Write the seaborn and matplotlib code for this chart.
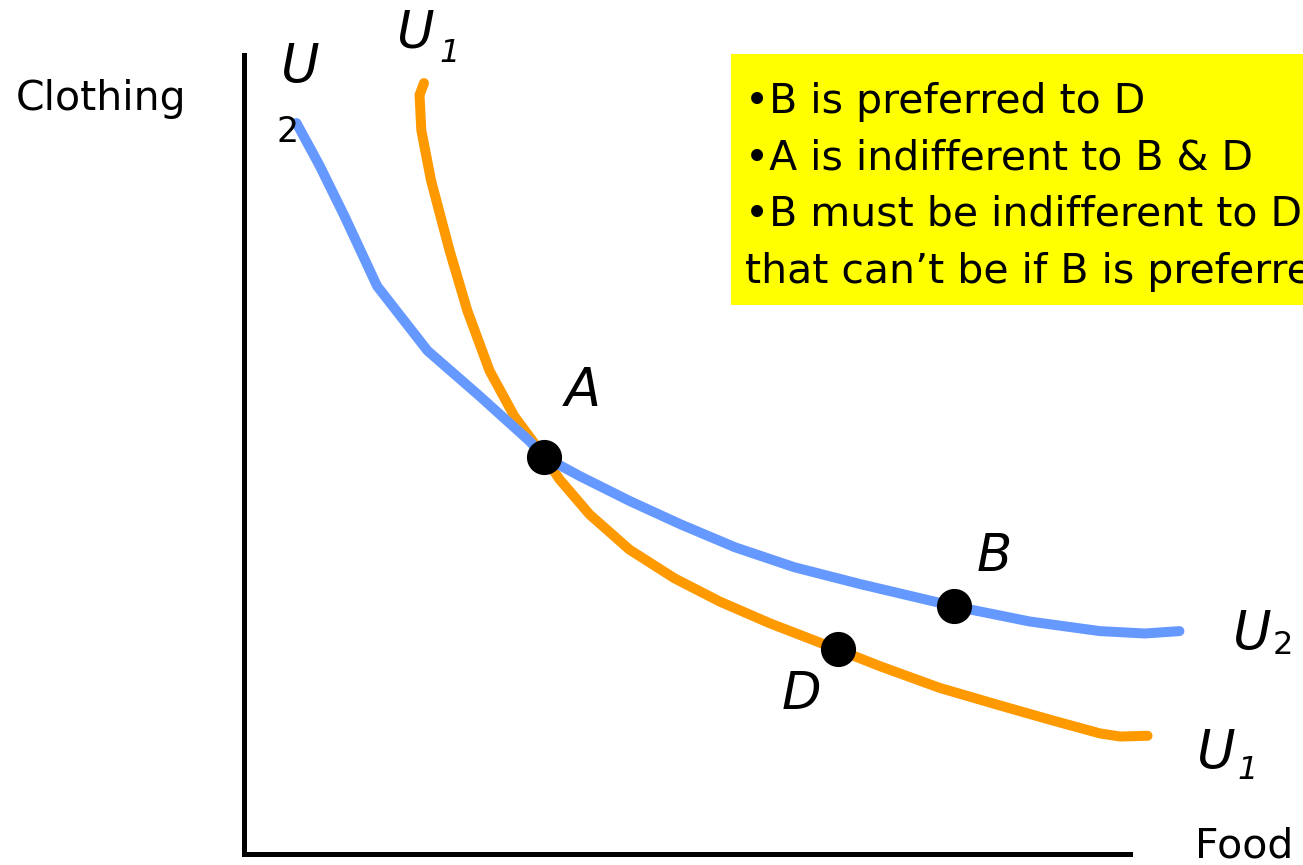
import matplotlib
matplotlib.use("Agg")
import matplotlib.pyplot as plt
import seaborn as sns
import pandas as pd
from matplotlib.patches import Rectangle

# ---- data (Food on x, Clothing on y; axes run 0..10) ----
u2_food = [0.59, 0.85, 1.13, 1.50, 2.07, 2.66, 3.22, 3.39, 3.79, 4.35, 4.92, 5.54,
           6.21, 6.95, 8.02, 8.87, 9.66, 10.17, 10.56]
u2_cloth = [9.15, 8.62, 7.99, 7.11, 6.30, 5.73, 5.17, 4.97, 4.73, 4.42, 4.13, 3.84,
            3.59, 3.38, 3.10, 2.91, 2.79, 2.76, 2.79]
u1_food = [2.03, 1.98, 2.00, 2.11, 2.32, 2.52, 2.77, 3.05, 3.39, 3.56, 3.90, 4.35,
           4.86, 5.37, 5.93, 6.70, 7.18, 7.85, 8.53, 9.10, 9.66, 9.89, 10.20]
u1_cloth = [9.65, 9.50, 9.06, 8.43, 7.55, 6.80, 6.05, 5.48, 4.97, 4.69, 4.25, 3.81,
            3.45, 3.16, 2.89, 2.56, 2.35, 2.08, 1.86, 1.68, 1.51, 1.47, 1.48]
point_names = ["A", "B", "D"]
point_food = [3.39, 8.02, 6.70]
point_cloth = [4.97, 3.10, 2.56]
box_lines = ["\u2022B is preferred to D",
             "\u2022A is indifferent to B & D",
             "\u2022B must be indifferent to D, but",
             "that can\u2019t be if B is preferred to D"]

BLUE = "#6699FF"
ORANGE = "#FF9900"

sns.set_style("white")
plt.rcParams["font.family"] = ["DejaVu Sans"]
plt.rcParams["text.color"] = "black"

fig = plt.figure(figsize=(13.03, 8.65), dpi=100)
ax = fig.add_axes([0, 0, 1, 1])
ax.set_xlim(-2.757, 11.955)
ax.set_ylim(-0.138, 10.69)

df1 = pd.DataFrame({"Food": u1_food, "Clothing": u1_cloth})
df2 = pd.DataFrame({"Food": u2_food, "Clothing": u2_cloth})
sns.lineplot(data=df1, x="Food", y="Clothing", sort=False, estimator=None, ax=ax,
             color=ORANGE, linewidth=7.2, solid_capstyle="round",
             solid_joinstyle="round", zorder=2)
sns.lineplot(data=df2, x="Food", y="Clothing", sort=False, estimator=None, ax=ax,
             color=BLUE, linewidth=7.2, solid_capstyle="round",
             solid_joinstyle="round", zorder=3)
pts = pd.DataFrame({"Food": point_food, "Clothing": point_cloth, "name": point_names})
sns.scatterplot(data=pts, x="Food", y="Clothing", ax=ax, color="black", s=640,
                linewidth=0, zorder=5)

# axes drawn as spines through the origin
for side in ["top", "right"]:
    ax.spines[side].set_visible(False)
ax.spines["left"].set_position(("data", 0))
ax.spines["bottom"].set_position(("data", 0))
ax.spines["left"].set_bounds(0, 10.0)
ax.spines["bottom"].set_bounds(0, 10.0)
for side in ["left", "bottom"]:
    ax.spines[side].set_linewidth(3.6)
    ax.spines[side].set_color("black")
    ax.spines[side].set_visible(True)
ax.set_xticks([])
ax.set_yticks([])
ax.set_xlabel("")
ax.set_ylabel("")
ax.grid(False)

# axis titles
ax.text(-2.58, 9.31, "Clothing", fontsize=29.5, ha="left", va="baseline")
ax.text(10.73, -0.04, "Food", fontsize=29.5, ha="left", va="baseline", clip_on=False)

# point labels
ax.text(3.62, 5.61, "A", fontsize=38, style="italic", ha="left", va="baseline")
ax.text(8.27, 3.54, "B", fontsize=37, style="italic", ha="left", va="baseline")
ax.text(6.07, 1.81, "D", fontsize=37, style="italic", ha="left", va="baseline")

# curve labels
ax.text(0.41, 9.66, "U", fontsize=38, style="italic", ha="left", va="baseline")
ax.text(0.36, 8.91, "2", fontsize=25, ha="left", va="baseline")
ax.text(1.72, 10.09, "U", fontsize=37, style="italic", ha="left", va="baseline")
ax.text(2.20, 9.91, "1", fontsize=23, style="italic", ha="left", va="baseline")
ax.text(11.16, 2.57, "U", fontsize=38, style="italic", ha="left", va="baseline")
ax.text(11.61, 2.50, "2", fontsize=23, ha="left", va="baseline")
ax.text(10.76, 1.07, "U", fontsize=38, style="italic", ha="left", va="baseline")
ax.text(11.21, 0.94, "1", fontsize=23, style="italic", ha="left", va="baseline")

# yellow note box
ax.add_patch(Rectangle((5.50, 6.87), 7.0, 3.15, facecolor="#FFFF00",
                       edgecolor="none", zorder=1))
baselines = [9.28, 8.57, 7.86, 7.15]
for line, yb in zip(box_lines, baselines):
    ax.text(5.66, yb, line, fontsize=29.5, ha="left", va="baseline", zorder=2)

fig.savefig("out.png", dpi=100)
